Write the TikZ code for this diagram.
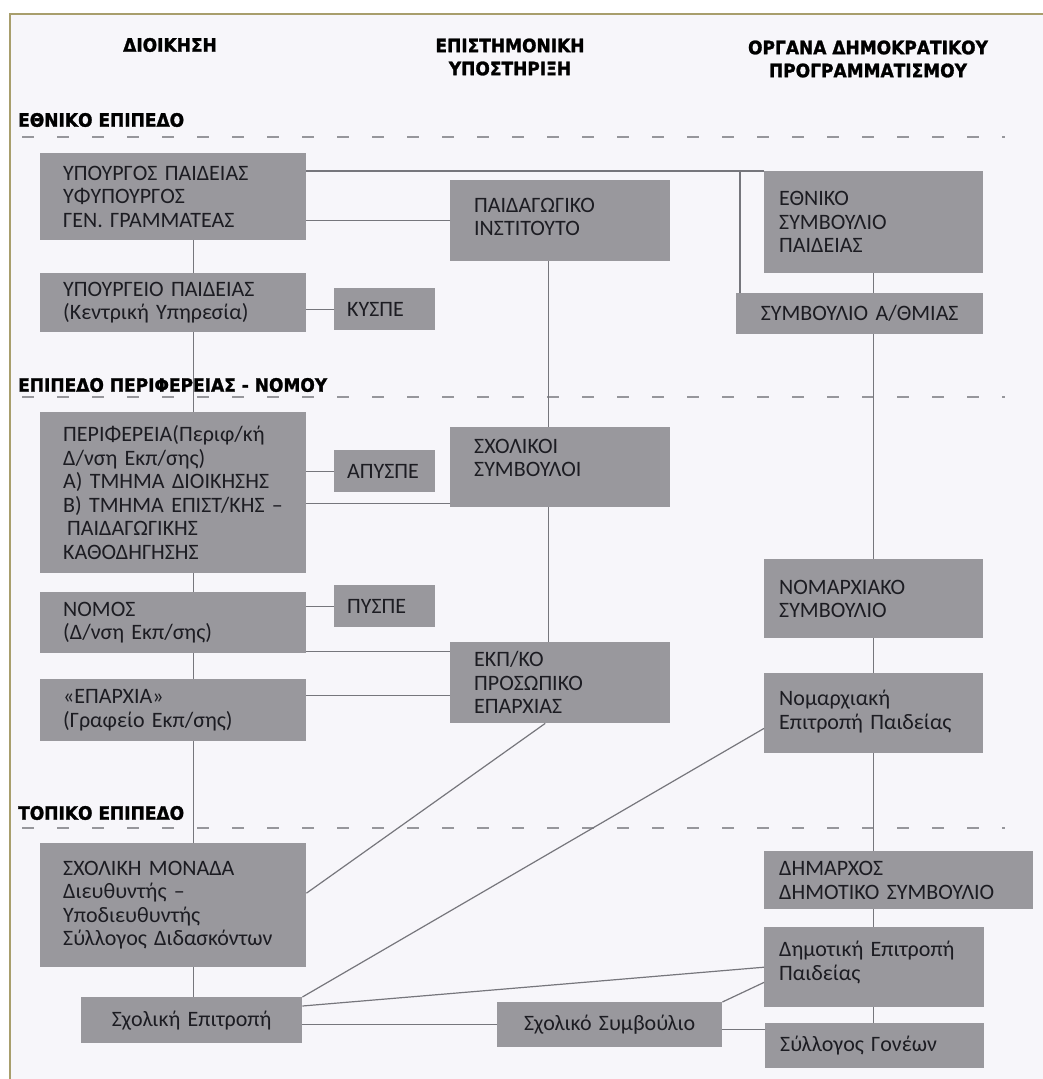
\documentclass[tikz,border=0pt]{standalone}
\usepackage{fontspec}
\setmainfont{Carlito}
\newfontfamily\headfont{DejaVu Sans}[FakeStretch=0.92, BoldFeatures={FakeBold=1.5}]

\definecolor{boxgrey}{RGB}{153,152,157}
\definecolor{textdark}{RGB}{28,28,34}
\definecolor{linegrey}{RGB}{118,118,124}
\definecolor{dashgrey}{RGB}{150,150,155}
\definecolor{paper}{RGB}{247,246,250}
\definecolor{framecol}{RGB}{168,158,108}

\begin{document}
\begin{tikzpicture}[x=1pt, y=-1pt,
  box/.style={fill=boxgrey, anchor=north west, align=left, text=textdark,
    font=\fontsize{22}{23.5}\selectfont, inner ysep=0pt},
  link/.style={draw=linegrey, line width=1.2pt},
  levelline/.style={draw=dashgrey, line width=1.4pt, dash pattern=on 12pt off 23pt},
  head/.style={font=\headfont\bfseries\fontsize{18.5}{23}\selectfont, align=center, text=black},
  levelname/.style={font=\headfont\bfseries\fontsize{18.5}{23}\selectfont, anchor=west, text=black, inner sep=0pt}]

\useasboundingbox (0,0) rectangle (1043,1079);
\fill [paper] (10,14) rectangle (1043,1079);
\draw [framecol, line width=1.5pt] (10,1079) -- (10,14) -- (1043,14);

% column titles
\node [head] (head-1) at (170,45) {ΔΙΟΙΚΗΣΗ};
\node [head] (head-2) at (510,57) {ΕΠΙΣΤΗΜΟΝΙΚΗ\\ΥΠΟΣΤΗΡΙΞΗ};
\node [head] (head-3) at (868,59) {ΟΡΓΑΝΑ ΔΗΜΟΚΡΑΤΙΚΟΥ\\ΠΡΟΓΡΑΜΜΑΤΙΣΜΟΥ};

% levels
\foreach \l/\y in {1/137, 2/397, 3/828}
  \draw [levelline] (22,\y) -- (1005,\y);

% administration
\node [box, text width=220pt, inner xsep=23pt, minimum height=87pt] (admin-1) at (40,153)
  {ΥΠΟΥΡΓΟΣ ΠΑΙΔΕΙΑΣ\\ΥΦΥΠΟΥΡΓΟΣ\\ΓΕΝ. ΓΡΑΜΜΑΤΕΑΣ};
\node [box, text width=220pt, inner xsep=23pt, minimum height=59pt] (admin-2) at (40,273)
  {ΥΠΟΥΡΓΕΙΟ ΠΑΙΔΕΙΑΣ\\(Κεντρική Υπηρεσία)};
\node [box, text width=220pt, inner xsep=23pt, minimum height=161pt] (admin-3) at (40,412)
  {ΠΕΡΙΦΕΡΕΙΑ(Περιφ/κή\\Δ/νση Εκπ/σης)\\Α) ΤΜΗΜΑ ΔΙΟΙΚΗΣΗΣ\\Β) ΤΜΗΜΑ ΕΠΙΣΤ/ΚΗΣ –\\\hspace{4pt}ΠΑΙΔΑΓΩΓΙΚΗΣ\\ΚΑΘΟΔΗΓΗΣΗΣ};
\node [box, text width=220pt, inner xsep=23pt, minimum height=61pt] (admin-4) at (40,592)
  {ΝΟΜΟΣ\\(Δ/νση Εκπ/σης)};
\node [box, text width=220pt, inner xsep=23pt, minimum height=62pt] (admin-5) at (40,679)
  {«ΕΠΑΡΧΙΑ»\\(Γραφείο Εκπ/σης)};
\node [box, text width=220pt, inner xsep=23pt, minimum height=124pt] (admin-6) at (40,843)
  {ΣΧΟΛΙΚΗ ΜΟΝΑΔΑ\\Διευθυντής –\\Υποδιευθυντής\\Σύλλογος Διδασκόντων};
\node [box, align=center, text width=201pt, inner xsep=10pt, minimum height=46pt] (admin-7) at (81,997)
  {Σχολική Επιτροπή};

\foreach \m/\y [count=\i] in {ΚΥΣΠΕ/288, ΑΠΥΣΠΕ/450, ΠΥΣΠΕ/585}
  \node [box, text width=75pt, inner xsep=13pt, minimum height=42pt] (side-\i) at (334,\y) {\m};

% scientific support
\node [box, text width=172pt, inner xsep=24pt, minimum height=81pt] (sci-1) at (450,180)
  {ΠΑΙΔΑΓΩΓΙΚΟ\\ΙΝΣΤΙΤΟΥΤΟ\\[-16pt]\mbox{}};
\node [box, text width=172pt, inner xsep=24pt, minimum height=80pt] (sci-2) at (450,427)
  {ΣΧΟΛΙΚΟΙ\\ΣΥΜΒΟΥΛΟΙ\\[-5pt]\mbox{}};
\node [box, text width=172pt, inner xsep=24pt, minimum height=81pt] (sci-3) at (450,642)
  {ΕΚΠ/ΚΟ\\ΠΡΟΣΩΠΙΚΟ\\ΕΠΑΡΧΙΑΣ};
\node [box, align=center, text width=205pt, inner xsep=10pt, minimum height=45pt] (sci-4) at (497,1002)
  {Σχολικό Συμβούλιο};

% democratic planning
\node [box, text width=189pt, inner xsep=15pt, minimum height=102pt] (dem-1) at (764,171)
  {ΕΘΝΙΚΟ\\ΣΥΜΒΟΥΛΙΟ\\ΠΑΙΔΕΙΑΣ};
\node [box, align=center, text width=227pt, inner xsep=10pt, minimum height=41pt] (dem-2) at (736,293)
  {ΣΥΜΒΟΥΛΙΟ Α/ΘΜΙΑΣ};
\node [box, text width=189pt, inner xsep=15pt, minimum height=79pt] (dem-3) at (764,559)
  {ΝΟΜΑΡΧΙΑΚΟ\\ΣΥΜΒΟΥΛΙΟ};
\node [box, text width=189pt, inner xsep=15pt, minimum height=80pt] (dem-4) at (764,673)
  {Νομαρχιακή\\Επιτροπή Παιδείας\\[-17pt]\mbox{}};
\node [box, text width=239pt, inner xsep=15pt, minimum height=58pt] (dem-5) at (764,851)
  {ΔΗΜΑΡΧΟΣ\\ΔΗΜΟΤΙΚΟ ΣΥΜΒΟΥΛΙΟ};
\node [box, text width=190pt, inner xsep=15pt, minimum height=80pt] (dem-6) at (764,927)
  {Δημοτική Επιτροπή\\Παιδείας\\[-11pt]\mbox{}};
\node [box, text width=189pt, inner xsep=15pt, minimum height=45pt] (dem-7) at (765,1023)
  {Σύλλογος Γονέων};

% spines
\foreach \a/\b in {1/2, 2/3, 3/4, 4/5, 5/6, 6/7}
  \draw [link] ([xshift=20pt]admin-\a.south) -- ([xshift=20pt]admin-\a.south |- admin-\b.north);
\foreach \a/\b in {1/2, 2/3}
  \draw [link] ([xshift=-12pt]sci-\a.south) -- ([xshift=-12pt]sci-\a.south |- sci-\b.north);
\foreach \a/\b in {1/2, 2/3, 3/4, 4/5, 5/6, 6/7}
  \draw [link] (dem-1.south |- dem-\a.south) -- (dem-1.south |- dem-\b.north);

% cross links
\draw [link] (dem-1.north west) -- (dem-1.north west -| admin-1.east);
\coordinate (branch) at (740,171);
\draw [link] (branch) -- (branch |- dem-2.north);
\draw [link] (sci-1.west) -- (sci-1.west -| admin-1.east);
\draw [link] (side-1.west) -- (side-1.west -| admin-2.east);
\draw [link] (side-2.west) -- (side-2.west -| admin-3.east);
\draw [link] ([yshift=4pt]sci-2.south west) -- ([yshift=4pt]sci-2.south west -| admin-3.east);
\draw [link] (side-3.west) -- (side-3.west -| admin-4.east);
\draw [link] ([yshift=2pt]admin-4.south east) -- ([yshift=2pt]admin-4.south east -| sci-3.west);
\draw [link] ([yshift=-13pt]sci-3.west) -- ([yshift=-13pt]sci-3.west -| admin-5.east);
\draw [link] ([yshift=12pt]admin-6.east) -- ([xshift=-15pt]sci-3.south);
\draw [link] (admin-7.north east) -- ([yshift=25pt]dem-4.south west);
\draw [link] ([yshift=-9pt]admin-7.north east) -- (dem-6.west);
\draw [link] (sci-4.west) -- (sci-4.west -| admin-7.east);
\draw [link] (sci-4.north east) -- ([yshift=25pt]dem-6.south west);
\draw [link] ([yshift=-5pt]sci-4.east) -- ([yshift=-5pt]sci-4.east -| dem-7.west);

% level names
\node [levelname] (level-1) at (18,120) {ΕΘΝΙΚΟ ΕΠΙΠΕΔΟ};
\node [levelname] (level-2) at (18,385) {ΕΠΙΠΕΔΟ ΠΕΡΙΦΕΡΕΙΑΣ - ΝΟΜΟΥ};
\node [levelname] (level-3) at (18,813) {ΤΟΠΙΚΟ ΕΠΙΠΕΔΟ};
\end{tikzpicture}
\end{document}
